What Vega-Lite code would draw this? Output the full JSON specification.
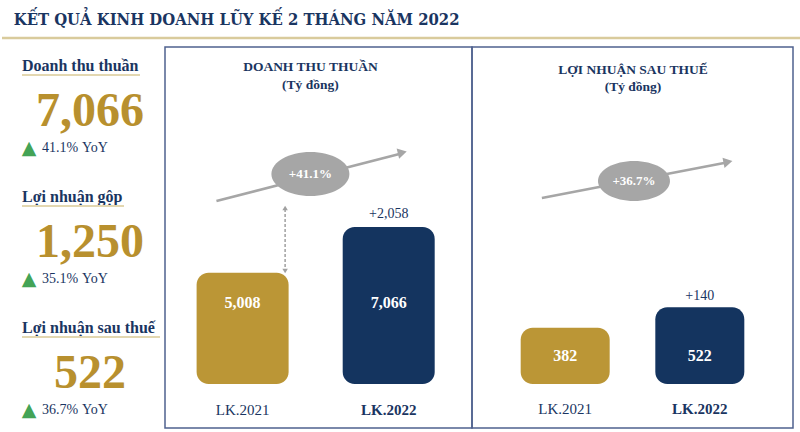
{
  "$schema": "https://vega.github.io/schema/vega-lite/v6.json",
  "padding": {"left": 0, "right": 0, "top": 11, "bottom": 0},
  "background": "white",
  "config": {"view": {"stroke": null}, "font": "Liberation Serif"},
  "title": {"text": "KẾT QUẢ KINH DOANH LŨY KẾ 2 THÁNG NĂM 2022", "anchor": "start", "dx": 13, "font": "DejaVu Serif Condensed", "fontSize": 16.5, "fontWeight": "bold", "color": "#1a3561", "baseline": "top", "offset": 6},
  "spacing": 9,
  "bounds": "flush",
  "vconcat": [
    {
      "width": 800, "height": 4,
      "data": {"values": [{"line": 0}]},
      "mark": {"type": "rule", "color": "#d9cb9c", "strokeWidth": 2.5},
      "encoding": {"y": {"field": "line", "type": "quantitative", "scale": {"domain": [0, 1]}, "axis": null}}
    },
    {
      "spacing": 0,
      "bounds": "flush",
      "resolve": {"scale": {"x": "independent", "y": "independent", "color": "independent"}},
      "hconcat": [
        {
          "width": 163, "height": 381,
          "data": {"values": [
            {"metric": "Doanh thu thuần", "value": 7066, "yoy": 0.411},
            {"metric": "Lợi nhuận gộp", "value": 1250, "yoy": 0.351},
            {"metric": "Lợi nhuận sau thuế", "value": 522, "yoy": 0.367}
          ]},
          "encoding": {"y": {"field": "metric", "type": "nominal", "sort": null, "scale": {"type": "point", "range": [28, 290], "padding": 0}, "axis": null}},
          "layer": [
            {"mark": {"type": "text", "x": 20, "align": "left", "baseline": "alphabetic", "dy": -4, "fontSize": 16, "fontWeight": "bold", "color": "#1a3561"}, "encoding": {"text": {"field": "metric"}}},
            {"transform": [{"filter": "datum.metric == 'Doanh thu thuần'"}], "mark": {"type": "rule", "x": 20, "x2": 138, "color": "#e3d7b0", "strokeWidth": 2}},
            {"transform": [{"filter": "datum.metric == 'Lợi nhuận gộp'"}], "mark": {"type": "rule", "x": 20, "x2": 122, "color": "#e3d7b0", "strokeWidth": 2}},
            {"transform": [{"filter": "datum.metric == 'Lợi nhuận sau thuế'"}], "mark": {"type": "rule", "x": 20, "x2": 158, "color": "#e3d7b0", "strokeWidth": 2}},
            {"mark": {"type": "text", "x": 88, "align": "center", "baseline": "alphabetic", "dy": 51, "fontSize": 48, "fontWeight": "bold", "color": "#b8902e"}, "encoding": {"text": {"field": "value", "format": ","}}},
            {"mark": {"type": "text", "x": 27, "align": "center", "baseline": "middle", "dy": 73, "font": "DejaVu Sans", "fontSize": 19, "color": "#44a356", "text": "▲"}},
            {"mark": {"type": "text", "x": 40, "align": "left", "baseline": "alphabetic", "dy": 77, "fontSize": 14, "color": "#1a3561"}, "encoding": {"text": {"field": "yoy", "format": ".1%"}}},
            {"mark": {"type": "text", "x": 80, "align": "left", "baseline": "alphabetic", "dy": 77, "fontSize": 14, "color": "#1a3561", "text": "YoY"}}
          ]
        },
        {
          "width": 307, "height": 381,
          "view": {"stroke": "#4f618f", "strokeWidth": 1.5},
          "data": {"values": [
            {"period": "LK.2021", "year": 2021, "value": 5008},
            {"period": "LK.2022", "year": 2022, "value": 7066, "change": 2058}
          ]},
          "layer": [
            {"mark": {"type": "bar", "size": 92, "cornerRadius": 12},
             "encoding": {
               "x": {"field": "year", "type": "quantitative", "scale": {"domain": [2020.503, 2022.536], "nice": false, "zero": false}, "axis": null},
               "y": {"field": "value", "type": "quantitative", "scale": {"domain": [-1980, 15165], "nice": false, "zero": false}, "axis": null},
               "y2": {"datum": 0},
               "color": {"field": "period", "type": "nominal", "scale": {"domain": ["LK.2021", "LK.2022"], "range": ["#bb9636", "#14345f"]}, "legend": null}}},
            {"transform": [{"joinaggregate": [{"op": "max", "field": "value", "as": "top"}]}],
             "mark": {"type": "text", "dy": 76, "baseline": "middle", "fontSize": 16, "fontWeight": "bold", "color": "white"},
             "encoding": {"x": {"field": "year", "type": "quantitative"}, "y": {"field": "top", "type": "quantitative"}, "text": {"field": "value", "format": ","}}},
            {"transform": [{"filter": "isValid(datum.change)"}],
             "mark": {"type": "text", "dy": -9, "baseline": "alphabetic", "fontSize": 14, "color": "#1a3561"},
             "encoding": {"x": {"field": "year", "type": "quantitative"}, "y": {"field": "value", "type": "quantitative"}, "text": {"field": "change", "format": "+,"}}},
            {"transform": [{"filter": "datum.year == 2021"}],
             "mark": {"type": "text", "dy": 31, "baseline": "alphabetic", "fontSize": 15, "color": "#1a3561"},
             "encoding": {"x": {"field": "year", "type": "quantitative"}, "y": {"datum": 0}, "text": {"field": "period"}}},
            {"transform": [{"filter": "datum.year == 2022"}],
             "mark": {"type": "text", "dy": 31, "baseline": "alphabetic", "fontSize": 15, "fontWeight": "bold", "color": "#1a3561"},
             "encoding": {"x": {"field": "year", "type": "quantitative"}, "y": {"datum": 0}, "text": {"field": "period"}}},
            {"data": {"values": [{"growth": 0.411}]},
             "mark": {"type": "rule", "color": "#a6a6a6", "strokeWidth": 2.5},
             "encoding": {"x": {"datum": 2020.821}, "y": {"datum": 8235}, "x2": {"datum": 2022.073}, "y2": {"datum": 10350}}},
            {"data": {"values": [{"growth": 0.411}]},
             "mark": {"type": "point", "shape": "triangle-right", "filled": true, "size": 110, "angle": -14, "color": "#a6a6a6", "opacity": 1},
             "encoding": {"x": {"datum": 2022.093}, "y": {"datum": 10417}}},
            {"data": {"values": [{"growth": 0.411}]},
             "mark": {"type": "rule", "color": "#a0a0a0", "strokeWidth": 1.5, "strokeDash": [3, 2]},
             "encoding": {"x": {"datum": 2021.291}, "y": {"datum": 7875}, "y2": {"datum": 5175}}},
            {"data": {"values": [{"growth": 0.411}]},
             "mark": {"type": "point", "shape": "triangle-up", "filled": true, "size": 30, "color": "#a0a0a0", "opacity": 1},
             "encoding": {"x": {"datum": 2021.291}, "y": {"datum": 7920}}},
            {"data": {"values": [{"growth": 0.411}]},
             "mark": {"type": "point", "shape": "triangle-down", "filled": true, "size": 30, "color": "#a0a0a0", "opacity": 1},
             "encoding": {"x": {"datum": 2021.291}, "y": {"datum": 5085}}},
            {"data": {"values": [{"growth": 0.411}]},
             "mark": {"type": "point", "shape": "M-1,0C-1,-0.3115,-0.5523,-0.564,0,-0.564C0.5523,-0.564,1,-0.3115,1,0C1,0.3115,0.5523,0.564,0,0.564C-0.5523,0.564,-1,0.3115,-1,0Z", "filled": true, "size": 6084, "color": "#a6a6a6", "opacity": 1},
             "encoding": {"x": {"datum": 2021.464}, "y": {"datum": 9450}}},
            {"data": {"values": [{"growth": 0.411}]},
             "mark": {"type": "text", "baseline": "middle", "fontSize": 13, "fontWeight": "bold", "color": "white"},
             "encoding": {"x": {"datum": 2021.464}, "y": {"datum": 9450}, "text": {"field": "growth", "format": "+.1%"}}},
            {"data": {"values": [{"growth": 0.411}]},
             "mark": {"type": "text", "baseline": "alphabetic", "fontSize": 13.5, "fontWeight": "bold", "color": "#1a3561", "text": "DOANH THU THUẦN"},
             "encoding": {"x": {"datum": 2021.464}, "y": {"datum": 14085}}},
            {"data": {"values": [{"growth": 0.411}]},
             "mark": {"type": "text", "baseline": "alphabetic", "fontSize": 13.5, "fontWeight": "bold", "color": "#1a3561", "text": "(Tỷ đồng)"},
             "encoding": {"x": {"datum": 2021.464}, "y": {"datum": 13275}}}
          ]
        },
        {
          "width": 321, "height": 381,
          "view": {"stroke": "#4f618f", "strokeWidth": 1.5},
          "data": {"values": [
            {"period": "LK.2021", "year": 2021, "value": 382},
            {"period": "LK.2022", "year": 2022, "value": 522, "change": 140}
          ]},
          "layer": [
            {"mark": {"type": "bar", "size": 89, "cornerRadius": 12},
             "encoding": {
               "x": {"field": "year", "type": "quantitative", "scale": {"domain": [2020.345, 2022.655], "nice": false, "zero": false}, "axis": null},
               "y": {"field": "value", "type": "quantitative", "scale": {"domain": [-299, 2292], "nice": false, "zero": false}, "axis": null},
               "y2": {"datum": 0},
               "color": {"field": "period", "type": "nominal", "scale": {"domain": ["LK.2021", "LK.2022"], "range": ["#bb9636", "#14345f"]}, "legend": null}}},
            {"transform": [{"joinaggregate": [{"op": "max", "field": "value", "as": "top"}]}],
             "mark": {"type": "text", "dy": 49, "baseline": "middle", "fontSize": 16, "fontWeight": "bold", "color": "white"},
             "encoding": {"x": {"field": "year", "type": "quantitative"}, "y": {"field": "top", "type": "quantitative"}, "text": {"field": "value", "format": ","}}},
            {"transform": [{"filter": "isValid(datum.change)"}],
             "mark": {"type": "text", "dy": -7, "baseline": "alphabetic", "fontSize": 14, "color": "#1a3561"},
             "encoding": {"x": {"field": "year", "type": "quantitative"}, "y": {"field": "value", "type": "quantitative"}, "text": {"field": "change", "format": "+,"}}},
            {"transform": [{"filter": "datum.year == 2021"}],
             "mark": {"type": "text", "dy": 30, "baseline": "alphabetic", "fontSize": 15, "color": "#1a3561"},
             "encoding": {"x": {"field": "year", "type": "quantitative"}, "y": {"datum": 0}, "text": {"field": "period"}}},
            {"transform": [{"filter": "datum.year == 2022"}],
             "mark": {"type": "text", "dy": 30, "baseline": "alphabetic", "fontSize": 15, "fontWeight": "bold", "color": "#1a3561"},
             "encoding": {"x": {"field": "year", "type": "quantitative"}, "y": {"datum": 0}, "text": {"field": "period"}}},
            {"data": {"values": [{"growth": 0.367}]},
             "mark": {"type": "rule", "color": "#a6a6a6", "strokeWidth": 2.5},
             "encoding": {"x": {"datum": 2020.827}, "y": {"datum": 1265}, "x2": {"datum": 2022.180}, "y2": {"datum": 1503}}},
            {"data": {"values": [{"growth": 0.367}]},
             "mark": {"type": "point", "shape": "triangle-right", "filled": true, "size": 110, "angle": -11, "color": "#a6a6a6", "opacity": 1},
             "encoding": {"x": {"datum": 2022.209}, "y": {"datum": 1510}}},
            {"data": {"values": [{"growth": 0.367}]},
             "mark": {"type": "point", "shape": "M-1,0C-1,-0.3071,-0.5523,-0.556,0,-0.556C0.5523,-0.556,1,-0.3071,1,0C1,0.3071,0.5523,0.556,0,0.556C-0.5523,0.556,-1,0.3071,-1,0Z", "filled": true, "size": 5184, "color": "#a6a6a6", "opacity": 1},
             "encoding": {"x": {"datum": 2021.511}, "y": {"datum": 1380}}},
            {"data": {"values": [{"growth": 0.367}]},
             "mark": {"type": "text", "baseline": "middle", "fontSize": 13, "fontWeight": "bold", "color": "white"},
             "encoding": {"x": {"datum": 2021.511}, "y": {"datum": 1380}, "text": {"field": "growth", "format": "+.1%"}}},
            {"data": {"values": [{"growth": 0.367}]},
             "mark": {"type": "text", "baseline": "alphabetic", "fontSize": 13.5, "fontWeight": "bold", "color": "#1a3561", "text": "LỢI NHUẬN SAU THUẾ"},
             "encoding": {"x": {"datum": 2021.504}, "y": {"datum": 2108}}},
            {"data": {"values": [{"growth": 0.367}]},
             "mark": {"type": "text", "baseline": "alphabetic", "fontSize": 13.5, "fontWeight": "bold", "color": "#1a3561", "text": "(Tỷ đồng)"},
             "encoding": {"x": {"datum": 2021.504}, "y": {"datum": 1992}}}
          ]
        }
      ]
    }
  ]
}
